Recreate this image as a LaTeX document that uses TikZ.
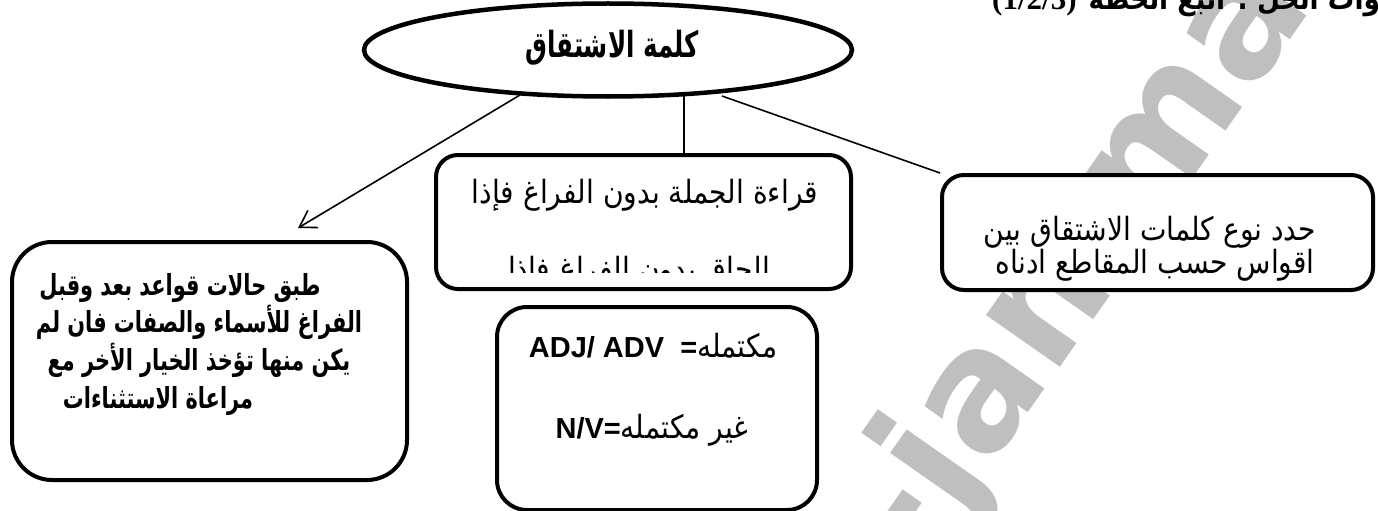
\documentclass[tikz,border=0pt]{standalone}
\usepackage{fontspec}
\usetikzlibrary{arrows.meta,shapes.geometric}
\TeXXeTstate=1
\newfontfamily\ar[Script=Arabic, FakeStretch=0.88]{DejaVu Sans}
\newfontfamily\arl[Script=Arabic, FakeStretch=0.72]{DejaVu Sans}
\newfontfamily\are[Script=Arabic, FakeStretch=0.68]{DejaVu Sans}
\newfontfamily\lsans{Liberation Sans}
\newfontfamily\lserif{Liberation Serif}
\newfontfamily\wmfont{DejaVu Sans}
\tikzset{
  box/.style={draw=black, line width=4pt, fill=white, rounded corners=#1, inner sep=0pt, anchor=north west},
  box/.default=22pt,
  conn/.style={line width=1.6pt, black},
  txt/.style={inner sep=0pt, anchor=base},
  artxt/.style={txt, font=\ar\fontsize{32}{34}\selectfont},
  arbold/.style={txt, font=\arl\bfseries\fontsize{29}{32}\selectfont},
}
\begin{document}
\begin{tikzpicture}[x=1pt,y=-1pt]
\useasboundingbox (0,0) rectangle (1378,511);
\clip (0,0) rectangle (1378,511);
\fill[white] (0,0) rectangle (1378,511);
% watermark
\node[font=\wmfont\bfseries\fontsize{165}{165}\selectfont, text=black!25, rotate=55, inner sep=0pt] (wmk) at (1095,240) {-jammal};
% connectors
\coordinate (l0) at (520,95);
\coordinate (l1) at (298,228);
\coordinate (m0) at (684,96);
\coordinate (r0) at (722,96);
% boxes
\node[box, minimum width=415pt, minimum height=134pt] (mid) at (434,153) {};
\node[box, minimum width=431pt, minimum height=115pt] (right) at (940,173) {};
\node[box=40pt, minimum width=395pt, minimum height=238pt] (left) at (10,240) {};
\node[box=30pt, minimum width=320pt, minimum height=203pt] (bot) at (495,305) {};
\draw[conn, -{Straight Barb[length=16pt,width=20pt]}] (l0) -- (l1);
\draw[conn] (m0) -- (m0 |- mid.north);
\draw[conn] (r0) -- (right.north west);
\node[draw=black, ellipse, line width=4.5pt, fill=white, minimum width=488pt, minimum height=93pt, inner sep=0pt] (root) at (608,50) {};
% texts
\node[txt, font=\are\bfseries\fontsize{36}{38}\selectfont] (t0) at (612,58) {\beginR كلمة الاشتقاق\endR};
\node[artxt] (t1) at (645,203) {\beginR قراءة الجملة بدون الفراغ فإذا\endR};
\begin{scope}
\clip (434,153) rectangle (849,272);
\node[artxt] (t2) at (639,280) {\beginR الحاق بدون الفراغ فإذا\endR};
\end{scope}
\node[artxt] (t3) at (1150,240) {\beginR حدد نوع كلمات الاشتقاق بين\endR};
\node[artxt] (t4) at (1155,273) {\beginR اقواس حسب المقاطع ادناه\endR};
\node[arbold] (t5) at (180,295) {\beginR طبق حالات قواعد بعد وقبل\endR};
\node[arbold] (t6) at (199,332) {\beginR الفراغ للأسماء والصفات فان لم\endR};
\node[arbold] (t7) at (199,370) {\beginR يكن منها تؤخذ الخيار الأخر مع\endR};
\node[arbold] (t8) at (158,408) {\beginR مراعاة الاستثناءات\endR};
\node[txt] (t9) at (653,357) {{\lsans\bfseries\fontsize{29}{32}\selectfont ADJ/ ADV\ \ =}{\ar\fontsize{32}{34}\selectfont\beginR مكتمله\endR}};
\node[txt] (t10) at (652,438) {{\lsans\bfseries\fontsize{29}{32}\selectfont N/V=}{\ar\fontsize{32}{34}\selectfont\beginR غير مكتمله\endR}};
\node[txt, anchor=base west] (title) at (992,10) {{\lserif\bfseries\fontsize{31}{33}\selectfont (1/2/3)}\hspace{12pt}{\ar\bfseries\fontsize{30}{32}\selectfont\beginR خطوات الحل : اتبع الخطة\endR}};
\end{tikzpicture}
\end{document}
